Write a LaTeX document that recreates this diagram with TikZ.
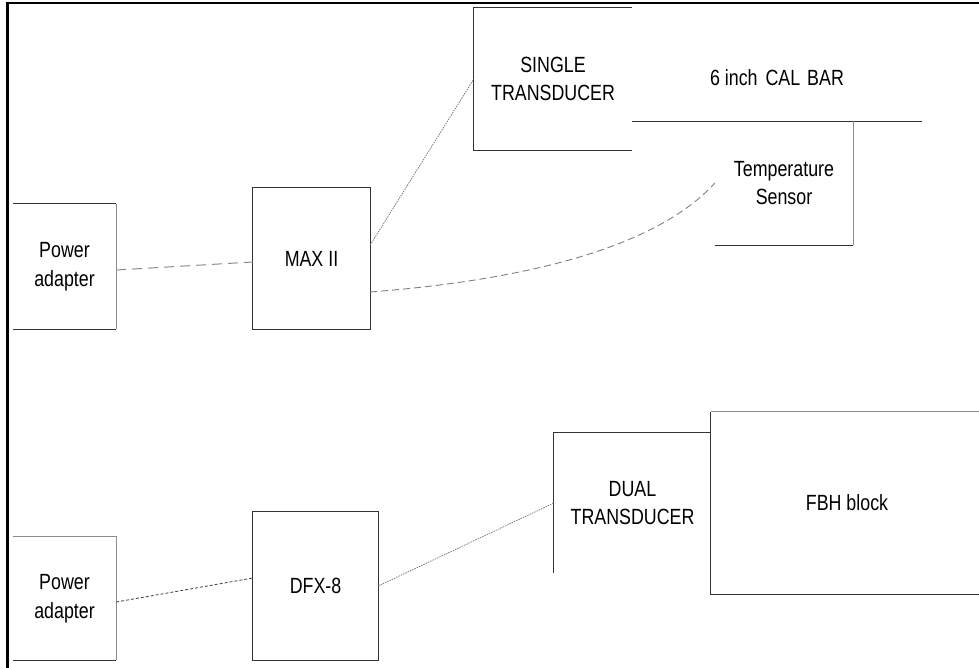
\documentclass[tikz,border=0pt]{standalone}
\usepackage{fontspec}
\setmainfont[FakeStretch=0.81]{Liberation Sans}
\begin{document}
\begin{tikzpicture}[x=1pt,y=-1pt,
  lbl/.style={draw=none,inner sep=0pt,align=center,font=\fontsize{22}{28.5}\selectfont},
  side/.style={draw=black!80,line width=1pt},
  lside/.style={draw=black!45,line width=1pt},
  frame/.style={draw=black,line width=2.2pt},
  cdash/.style={draw=black!45,line width=1pt,dash pattern=on 10pt off 6pt},
  cfine/.style={draw=black!55,line width=0.7pt,dash pattern=on 1.5pt off 1pt},
  cdense/.style={draw=black!75,line width=0.8pt,dash pattern=on 3pt off 2pt},
  ccurve/.style={draw=black!50,line width=0.9pt,dash pattern=on 7pt off 4pt}
]
\clip (0,0) rectangle (979,668);
\fill[white] (0,0) rectangle (979,668);
% outer frame
\coordinate (ftl) at (7.5,3);
\coordinate (ftr) at (979,3);
\coordinate (fbl) at (7.5,668);
\draw[frame] (fbl) -- (ftl) -- (ftr);

% nodes
\node[lbl,minimum width=103pt,minimum height=125pt] (pa1) at (64.5,266.5) {Power\\adapter};
\node[lbl,minimum width=117pt,minimum height=141pt] (max) at (311.5,258.5) {MAX II};
\node[lbl,minimum width=158pt,minimum height=142pt] (single) at (553,79) {SINGLE\\TRANSDUCER};
\node[lbl,minimum width=290pt,minimum height=86pt] (cal) at (777,78) {6 inch\hspace{3pt} CAL\hspace{2pt} BAR};
\node[lbl,minimum width=138pt,minimum height=124pt] (ts) at (784,183) {Temperature\\Sensor};
\node[lbl,minimum width=103pt,minimum height=123pt] (pa2) at (64.5,598.5) {Power\\adapter};
\node[lbl,minimum width=125pt,minimum height=148pt] (dfx) at (315.5,586) {DFX-8};
\node[lbl,minimum width=157pt,minimum height=140pt] (dual) at (632.5,503) {DUAL\\TRANSDUCER};
\node[lbl,minimum width=272pt,minimum height=182pt] (fbh) at (847,503) {FBH block};

% box sides
\draw[side] (pa1.north west) -- (pa1.north east);
\draw[lside] (pa1.north east) -- (pa1.south east);
\draw[side] (pa1.south east) -- (pa1.south west);
\draw[side] (max.south west) rectangle (max.north east);
\draw[side] (single.north east) -- (single.north west) -- (single.south west) -- (single.south east);
\draw[side] (cal.south west) -- (cal.south east);
\draw[lside] (ts.north east) -- (ts.south east);
\draw[side] (ts.south east) -- (ts.south west);
\draw[lside] (pa2.north west) -- (pa2.north east) -- (pa2.south east);
\draw[side] (pa2.south east) -- (pa2.south west);
\draw[side] (dfx.south west) rectangle (dfx.north east);
\draw[side] (dual.south west) -- (dual.north west) -- (dual.north east);
\draw[lside] (fbh.north east) -- (fbh.north west);
\draw[side] (fbh.north west) -- (fbh.south west) -- (fbh.south east);

% connectors
\draw[cdash] ([yshift=-3.5pt]pa1.east) -- ([yshift=-3.5pt]max.west);
\draw[cfine] ([yshift=13.5pt]max.east) -- (single.west);
\draw[ccurve] ([yshift=-33.5pt]max.east) .. controls +(129,-10) and +(-65,72) .. (ts.west);
\draw[cdense] ([yshift=-3.5pt]pa2.east) -- ([yshift=8pt]dfx.west);
\draw[cfine] (dfx.east) -- (dual.west);
\end{tikzpicture}
\end{document}
